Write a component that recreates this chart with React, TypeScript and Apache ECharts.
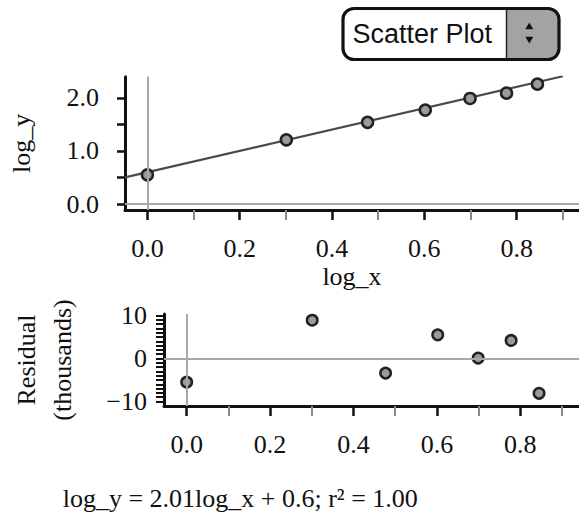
import React, { useEffect, useRef } from "react";
import * as echarts from "echarts";

// ---- data ----
const logX = [0, 0.301, 0.477, 0.602, 0.699, 0.778, 0.845];
const logY = [0.55, 1.21, 1.54, 1.77, 1.99, 2.09, 2.26];
const residuals = [-5.5, 8.9, -3.4, 5.5, 0.1, 4.2, -8.1];
const fitSlope = 2.01;
const fitIntercept = 0.6;
const fitXRange = [-0.0485, 0.9];
const xLabelTicks = [0, 0.2, 0.4, 0.6, 0.8];
const xOtherTicks = [0.1, 0.3, 0.5, 0.7, 0.9];
const topYTicks = [0, 0.5, 1, 1.5, 2];
const topYLabels = [0, 1, 2];
const resYTicks = [-10, -9, -8, -7, -6, -5, -4, -3, -2, -1, 0, 1, 2, 3, 4, 5, 6, 7, 8, 9, 10];
const resYLabels = [-10, 0, 10];
const equationText = "log_y = 2.01log_x + 0.6; r\u00b2 = 1.00";
const selectText = "Scatter Plot";

const SERIF = '"Liberation Serif", "Times New Roman", serif';
const SANS = '"Liberation Sans", Arial, sans-serif';
const INK = "#111";

function mainXAxis(gridIndex: number, min: number, max: number, name: string) {
  return {
    type: "value",
    gridIndex,
    min,
    max,
    position: "bottom",
    axisLine: { show: true, onZero: false, lineStyle: { color: INK, width: 3 } },
    axisTick: { show: true, customValues: xLabelTicks, length: 10, lineStyle: { color: INK, width: 2.5 } },
    axisLabel: {
      show: true,
      customValues: xLabelTicks,
      formatter: (v: number) => v.toFixed(1),
      margin: 25,
      fontSize: 26,
      fontFamily: SERIF,
      color: INK,
    },
    splitLine: { show: false },
    name,
    nameLocation: "middle",
    nameGap: 53,
    nameTextStyle: { fontSize: 26, fontFamily: SERIF, color: INK },
  };
}

function minorXAxis(gridIndex: number, min: number, max: number) {
  return {
    type: "value",
    gridIndex,
    min,
    max,
    position: "bottom",
    offset: 0,
    axisLine: { show: false, onZero: false },
    axisTick: { show: true, customValues: xOtherTicks, length: 10, lineStyle: { color: "#8a8a8a", width: 2 } },
    axisLabel: { show: false },
    splitLine: { show: false },
  };
}

const refLineStyle = { color: "#a8a8a8", width: 2, type: "solid" };

export default function App() {
  const ref = useRef<HTMLDivElement>(null);
  useEffect(() => {
    if (!ref.current) return;
    const chart = echarts.init(ref.current, undefined, { renderer: "svg" });
    const topPoints = logX.map((x, i) => [x, logY[i]]);
    const resPoints = logX.map((x, i) => [x, residuals[i]]);
    const fitPoints = fitXRange.map((x) => [x, fitSlope * x + fitIntercept]);

    const option = {
      animation: false,
      backgroundColor: "#fff",
      grid: [
        { left: 120.7, top: 76.7, width: 458.3, height: 133.3, containLabel: false },
        { left: 164, top: 314, width: 415, height: 92, containLabel: false },
      ],
      xAxis: [
        mainXAxis(0, -0.0485, 0.935, "log_x"),
        minorXAxis(0, -0.0485, 0.935),
        mainXAxis(1, -0.0544, 0.9408, ""),
        minorXAxis(1, -0.0544, 0.9408),
      ],
      yAxis: [
        {
          type: "value",
          gridIndex: 0,
          min: -0.113,
          max: 2.4,
          axisLine: { show: true, onZero: false, lineStyle: { color: INK, width: 3 } },
          axisTick: { show: true, customValues: topYTicks, length: 8, lineStyle: { color: INK, width: 2.5 } },
          axisLabel: {
            show: true,
            customValues: topYLabels,
            formatter: (v: number) => v.toFixed(1),
            margin: 26,
            fontSize: 26,
            fontFamily: SERIF,
            color: INK,
          },
          splitLine: { show: false },
          name: "log_y",
          nameLocation: "middle",
          nameRotate: 90,
          nameGap: 91,
          nameTextStyle: { fontSize: 26, fontFamily: SERIF, color: INK },
        },
        {
          type: "value",
          gridIndex: 1,
          min: -11.05,
          max: 10.35,
          axisLine: { show: true, onZero: false, lineStyle: { color: INK, width: 3 } },
          axisTick: { show: true, customValues: resYTicks, length: 8, lineStyle: { color: INK, width: 2 } },
          axisLabel: {
            show: true,
            customValues: resYLabels,
            formatter: (v: number) => (v < 0 ? "\u2212" + Math.abs(v) : String(v)),
            margin: 17,
            fontSize: 26,
            fontFamily: SERIF,
            color: INK,
          },
          splitLine: { show: false },
          name: "Residual\n(thousands)",
          nameLocation: "middle",
          nameRotate: 90,
          nameGap: 84,
          nameTextStyle: { fontSize: 26, fontFamily: SERIF, color: INK, lineHeight: 36 },
        },
      ],
      series: [
        {
          type: "line",
          xAxisIndex: 0,
          yAxisIndex: 0,
          data: [],
          z: 1,
          markLine: {
            silent: true,
            symbol: ["none", "none"],
            label: { show: false },
            lineStyle: refLineStyle,
            data: [{ xAxis: 0 }, { yAxis: 0 }],
          },
        },
        {
          type: "line",
          xAxisIndex: 0,
          yAxisIndex: 0,
          data: fitPoints,
          symbol: "none",
          lineStyle: { color: "#4a4a4a", width: 2.2 },
          z: 2,
        },
        {
          type: "scatter",
          xAxisIndex: 0,
          yAxisIndex: 0,
          data: topPoints,
          symbolSize: 11,
          itemStyle: { color: "#9a9a9a", borderColor: "#222", borderWidth: 2.5, opacity: 1 },
          z: 3,
        },
        {
          type: "line",
          xAxisIndex: 2,
          yAxisIndex: 1,
          data: [],
          z: 1,
          markLine: {
            silent: true,
            symbol: ["none", "none"],
            label: { show: false },
            lineStyle: refLineStyle,
            data: [{ xAxis: 0 }, { yAxis: 0 }],
          },
        },
        {
          type: "scatter",
          xAxisIndex: 2,
          yAxisIndex: 1,
          data: resPoints,
          symbolSize: 10.5,
          itemStyle: { color: "#9a9a9a", borderColor: "#222", borderWidth: 2.5, opacity: 1 },
          z: 3,
        },
      ],
      graphic: [
        {
          type: "group",
          children: [
            {
              type: "rect",
              shape: { x: 343, y: 8.5, width: 216, height: 51, r: 11 },
              style: { fill: "#fff", stroke: "none" },
            },
            {
              type: "rect",
              shape: { x: 506.5, y: 8.5, width: 52.5, height: 51, r: [0, 11, 11, 0] },
              style: { fill: "#a3a3a3", stroke: "none" },
            },
            {
              type: "line",
              shape: { x1: 506.5, y1: 8.5, x2: 506.5, y2: 59.5 },
              style: { stroke: "#222", lineWidth: 1.5 },
            },
            {
              type: "rect",
              shape: { x: 343, y: 8.5, width: 216, height: 51, r: 11 },
              style: { fill: "none", stroke: "#111", lineWidth: 3.2 },
            },
            {
              type: "polygon",
              shape: { points: [[525.3, 29.3], [533.3, 29.3], [529.3, 22.5]] },
              style: { fill: "#111" },
            },
            {
              type: "polygon",
              shape: { points: [[525.3, 36.7], [533.3, 36.7], [529.3, 43.5]] },
              style: { fill: "#111" },
            },
            {
              type: "text",
              x: 352.5,
              y: 33.5,
              style: {
                text: selectText,
                font: `27px ${SANS}`,
                fill: "#111",
                textAlign: "left",
                textVerticalAlign: "middle",
                verticalAlign: "middle",
              },
            },
          ],
        },
        {
          type: "text",
          x: 62.7,
          y: 498.5,
          style: {
            text: equationText,
            font: `26px ${SERIF}`,
            fill: "#111",
            textAlign: "left",
            textVerticalAlign: "middle",
            verticalAlign: "middle",
          },
        },
      ],
    };
    chart.setOption(option as any);
    return () => chart.dispose();
  }, []);
  return (
    <div
      ref={ref}
      style={{ position: "absolute", left: 0, top: 0, width: 579, height: 518, background: "#fff" }}
    />
  );
}
